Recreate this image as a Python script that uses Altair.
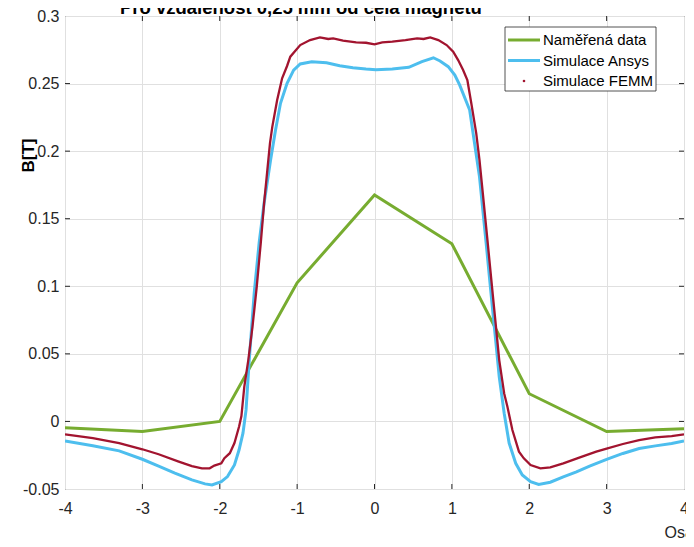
import altair as alt
import pandas as pd

FONT = "Liberation Sans"
TITLE = "Pro vzdálenost 0,25 mm od čela magnetu"
X_TITLE = "Osa x [mm]"
Y_TITLE = "B[T]"

SERIES = ["Naměřená data", "Simulace Ansys", "Simulace FEMM"]
COLORS = ["#77ac30", "#4dbeee", "#a2142f"]

X_TICKS = [-4, -3, -2, -1, 0, 1, 2, 3, 4]
Y_TICKS = [-0.05, 0, 0.05, 0.1, 0.15, 0.2, 0.25, 0.3]

# Naměřená data
X_MEAS = [-4, -3, -2, -1, 0, 1, 2, 3, 4]
B_MEAS = [-0.0047, -0.0075, 0.0, 0.1026, 0.1675, 0.1315, 0.0205, -0.0075, -0.0055]

# Simulace Ansys
X_ANSYS = [-4.0, -3.64, -3.30, -3.0, -2.79, -2.58, -2.36, -2.19, -2.10, -1.98, -1.90, -1.81,
           -1.75, -1.70, -1.66, -1.619, -1.555, -1.491, -1.427, -1.343, -1.279, -1.215, -1.13,
           -1.045, -0.96, -0.811, -0.62, -0.45, -0.279, -0.11, 0.018, 0.23, 0.443, 0.613,
           0.761, 0.847, 0.953, 1.038, 1.10, 1.23, 1.293, 1.357, 1.40, 1.443, 1.485, 1.527,
           1.57, 1.612, 1.676, 1.74, 1.825, 1.91, 2.017, 2.122, 2.272, 2.44, 2.61, 2.78, 3.0,
           3.21, 3.42, 3.63, 3.84, 4.0]
B_ANSYS = [-0.0144, -0.018, -0.0218, -0.028, -0.033, -0.0383, -0.0433, -0.0462, -0.047,
           -0.0445, -0.0408, -0.0322, -0.021, -0.0087, 0.0085, 0.0454, 0.0947, 0.132, 0.1614,
           0.1934, 0.2156, 0.2354, 0.2502, 0.26, 0.2645, 0.2662, 0.2654, 0.2632, 0.2617,
           0.2608, 0.2603, 0.2608, 0.262, 0.2662, 0.2691, 0.2667, 0.2625, 0.2563, 0.249,
           0.2304, 0.2058, 0.181, 0.1564, 0.132, 0.107, 0.0824, 0.0577, 0.033, 0.0061, -0.016,
           -0.031, -0.0396, -0.0446, -0.0466, -0.045, -0.041, -0.0373, -0.0331, -0.0281,
           -0.0237, -0.02, -0.0181, -0.0163, -0.0144]

# Simulace FEMM
X_FEMM = [-4.0, -3.64, -3.30, -3.0, -2.79, -2.53, -2.36, -2.23, -2.13, -2.07, -1.98, -1.94,
          -1.87, -1.81, -1.75, -1.72, -1.683, -1.631, -1.577, -1.522, -1.47, -1.427, -1.385,
          -1.351, -1.321, -1.258, -1.194, -1.13, -1.088, -0.96, -0.833, -0.705, -0.598,
          -0.534, -0.407, -0.237, -0.11, 0.0, 0.10, 0.23, 0.40, 0.55, 0.634, 0.72, 0.825,
          0.932, 1.017, 1.081, 1.145, 1.20, 1.251, 1.315, 1.357, 1.40, 1.443, 1.485, 1.527,
          1.57, 1.612, 1.676, 1.718, 1.782, 1.867, 1.93, 2.017, 2.144, 2.272, 2.44, 2.655,
          2.866, 3.0, 3.21, 3.42, 3.63, 3.84, 4.0]
B_FEMM = [-0.0095, -0.0124, -0.016, -0.0206, -0.0243, -0.0297, -0.033, -0.0347, -0.0347,
          -0.0327, -0.031, -0.0272, -0.0235, -0.016, -0.0038, 0.004, 0.0256, 0.0454, 0.070,
          0.0996, 0.132, 0.1614, 0.186, 0.2058, 0.218, 0.2378, 0.2539, 0.2630, 0.2699, 0.2785,
          0.2822, 0.2842, 0.283, 0.2835, 0.2817, 0.2805, 0.2802, 0.279, 0.2805, 0.281, 0.2822,
          0.2835, 0.283, 0.2842, 0.2822, 0.2785, 0.2736, 0.2674, 0.26, 0.2526, 0.2354, 0.2132,
          0.1934, 0.1688, 0.144, 0.1194, 0.0947, 0.070, 0.0454, 0.0207, 0.0108, -0.0064,
          -0.0224, -0.0273, -0.0323, -0.0347, -0.034, -0.031, -0.0266, -0.0224, -0.0202,
          -0.0167, -0.0138, -0.0118, -0.0108, -0.0095]

W, H = 619, 473
AXIS_COLOR = "#262626"

xscale = alt.Scale(domain=[-4, 4], nice=False, zero=False)
yscale = alt.Scale(domain=[-0.05, 0.3], nice=False, zero=False)

xaxis = alt.Axis(values=X_TICKS, labelExpr="toString(datum.value)", title=X_TITLE,
                 titleX=599, titleY=48, titleAlign="left", titleBaseline="alphabetic",
                 titleFont=FONT, titleFontSize=16, titleFontWeight="normal",
                 titleColor=AXIS_COLOR, labelPadding=11, labelBaseline="top")
yaxis = alt.Axis(values=Y_TICKS, labelExpr="toString(round(datum.value*100)/100)",
                 title=Y_TITLE, titleX=-37, titleY=139, titleAngle=270, titleAlign="center",
                 titleBaseline="middle", titleFont=FONT, titleFontSize=17,
                 titleFontWeight="bold", titleColor="black", labelPadding=6)

xenc = alt.X("x:Q", scale=xscale, axis=xaxis)
yenc = alt.Y("B:Q", scale=yscale, axis=yaxis)

layers = []

# inner tick marks (MATLAB style, box on)
xt = pd.DataFrame({"x": X_TICKS[1:-1]})
yt = pd.DataFrame({"B": Y_TICKS[1:-1]})
layers.append(alt.Chart(xt).mark_rule(color=AXIS_COLOR, strokeWidth=1).encode(
    x=xenc, y=alt.value(H), y2=alt.value(H - 5)))
layers.append(alt.Chart(xt).mark_rule(color=AXIS_COLOR, strokeWidth=1).encode(
    x=xenc, y=alt.value(0), y2=alt.value(5)))
layers.append(alt.Chart(yt).mark_rule(color=AXIS_COLOR, strokeWidth=1).encode(
    y=yenc, x=alt.value(0), x2=alt.value(5)))
layers.append(alt.Chart(yt).mark_rule(color=AXIS_COLOR, strokeWidth=1).encode(
    y=yenc, x=alt.value(W), x2=alt.value(W - 5)))

series_data = [(X_MEAS, B_MEAS, 3.0), (X_ANSYS, B_ANSYS, 3.0), (X_FEMM, B_FEMM, 2.3)]
for name, color, (xs, bs, sw) in zip(SERIES, COLORS, series_data):
    d = pd.DataFrame({"x": xs, "B": bs, "series": name})
    layers.append(alt.Chart(d).mark_line(color=color, strokeWidth=sw, clip=True).encode(
        x=xenc, y=yenc, order=alt.Order("x:Q")))

# legend
LX0, LX1, LY0, LY1 = 440, 591, 11, 75
layers.append(alt.Chart(pd.DataFrame({"n": [0]})).mark_rect(
    fill="white", stroke=AXIS_COLOR, strokeWidth=0.8).encode(
    x=alt.value(LX0), x2=alt.value(LX1), y=alt.value(LY0), y2=alt.value(LY1)))
for i, (name, color) in enumerate(zip(SERIES, COLORS)):
    yc = 24 + i * 20.5
    one = pd.DataFrame({"n": [name]})
    if i < 2:
        layers.append(alt.Chart(one).mark_rule(color=color, strokeWidth=3).encode(
            x=alt.value(443), x2=alt.value(475), y=alt.value(yc), y2=alt.value(yc)))
    else:
        layers.append(alt.Chart(one).mark_point(filled=True, color=color, size=7, opacity=1).encode(
            x=alt.value(459), y=alt.value(yc)))
    layers.append(alt.Chart(one).mark_text(align="left", baseline="middle", font=FONT,
                                           fontSize=15, color="black").encode(
        x=alt.value(478), y=alt.value(yc), text="n:N"))

# title (partly cut at the top, as in the reference)
layers.append(alt.Chart(pd.DataFrame({"t": [TITLE]})).mark_text(
    align="left", baseline="alphabetic", font=FONT, fontSize=18.5, fontWeight="bold",
    color="black").encode(x=alt.value(55), y=alt.value(-2), text="t:N"))

chart = alt.layer(*layers).properties(
    width=W, height=H,
    autosize=alt.AutoSizeParams(type="none"),
    padding={"left": 57, "right": 2, "top": 8, "bottom": 50},
).configure_view(stroke=AXIS_COLOR, strokeWidth=1).configure_axis(
    domain=False, ticks=False, tickSize=0, grid=True, gridColor="#e0e0e0", gridWidth=1,
    labelFont=FONT, labelFontSize=16, labelColor=AXIS_COLOR, labelOverlap=False,
    labelFlush=False,
)

chart.save("out.html", embed_options={"renderer": "svg", "actions": False})
